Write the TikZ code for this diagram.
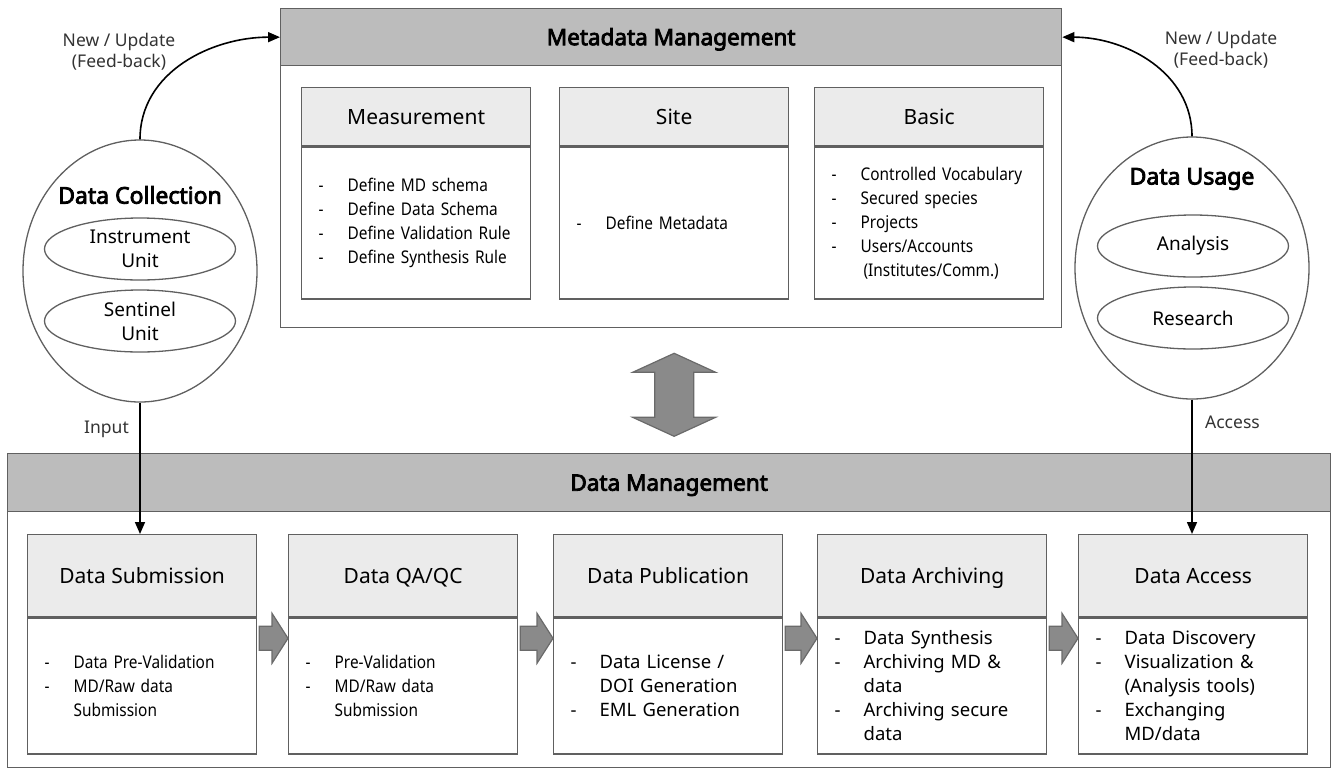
\documentclass[tikz,border=0pt]{standalone}
\usepackage{fontspec}
\setmainfont{Noto Sans}[AutoFakeBold=3.6]
\newfontfamily\condfont[FakeStretch=0.88]{Noto Sans}
\usetikzlibrary{positioning,calc,arrows.meta,shapes.geometric}
\definecolor{linegray}{HTML}{606060}
\definecolor{bandgray}{HTML}{BCBCBC}
\definecolor{hdrgray}{HTML}{EBEBEB}
\definecolor{arrgray}{HTML}{8A8A8A}
\definecolor{arrline}{HTML}{6A6A6A}
\newcommand{\fsz}[2]{\fontsize{#1}{#2}\selectfont}
\newcommand{\itm}[1]{\makebox[29pt][l]{-}#1}
\newcommand{\cnt}[1]{\hspace*{29pt}#1}
% block arrow between two boxes, at 21pt below the header line
\newcommand{\flowarr}[2]{%
 \coordinate (fs) at ($(#1.north east)+(2,21)$);
 \coordinate (ft) at ($(#2.north west)+(0,21)$);
 \coordinate (fh) at ($(ft)+(-16,0)$);
 \draw[flow] ($(fs)+(0,-12)$) -- ($(fh)+(0,-12)$) -- ($(fh)+(0,-25)$) -- (ft)
  -- ($(fh)+(0,25)$) -- ($(fh)+(0,12)$) -- ($(fs)+(0,12)$) -- cycle;
}
\tikzset{
 band/.style={draw=linegray, fill=bandgray, line width=1.3pt, inner sep=0pt, text height=16pt, text depth=0pt, font=\bfseries\fsz{22.5}{26}},
 frame/.style={draw=linegray, line width=1.3pt, inner sep=0pt},
 hdr/.style={draw=linegray, fill=hdrgray, line width=1.3pt, minimum width=229pt, inner sep=0pt, text height=15pt, text depth=0pt, font=\fsz{21}{25}},
 body/.style={draw=linegray, fill=white, line width=1.3pt, text width=195pt, inner xsep=17pt, inner ysep=0pt, align=left, font=\fsz{18.5}{24}},
 cbody/.style={body, font=\condfont\fsz{17.5}{24}},
 grp/.style={ellipse, draw=linegray, line width=1.3pt, minimum width=234pt, minimum height=262pt, inner sep=0pt},
 grptitle/.style={font=\bfseries\fsz{23}{27}, inner sep=0pt},
 unit/.style={ellipse, draw=linegray, line width=1.3pt, minimum width=191pt, minimum height=62pt, inner sep=0pt, align=center, font=\fsz{19}{24}},
 note/.style={align=center, font=\fsz{17.5}{21}, text=black!80},
 link/.style={line width=1.6pt, -{Triangle[length=12pt,width=10pt]}},
 flow/.style={draw=arrline, fill=arrgray, line width=1.2pt, line join=miter}
}
\begin{document}
\begin{tikzpicture}[x=1pt,y=-1pt]
\useasboundingbox (0,0) rectangle (1333,769);

% metadata management
\node[frame, minimum width=781pt, minimum height=262pt, anchor=north west] (mdb) at (280,65) {};
\node[band, minimum width=781pt, minimum height=57pt, anchor=north west] (mdh) at (280,8) {Metadata Management};

\node[hdr, minimum height=58pt, anchor=north west] (msh) at (301,87) {Measurement};
\node[cbody, minimum height=152pt, anchor=north] (msb) at (msh.south)
 {\itm{Define MD schema}\\ \itm{Define Data Schema}\\ \itm{Define Validation Rule}\\ \itm{Define Synthesis Rule}};
\node[hdr, minimum height=58pt, anchor=north west] (sth) at (559,87) {Site};
\node[cbody, minimum height=152pt, anchor=north] (stb) at (sth.south) {\itm{Define Metadata}};
\node[hdr, minimum height=58pt, anchor=north west] (bsh) at (814,87) {Basic};
\node[cbody, minimum height=152pt, anchor=north] (bsb) at (bsh.south)
 {\itm{Controlled Vocabulary}\\ \itm{Secured species}\\ \itm{Projects}\\ \itm{Users/Accounts}\\ \cnt{\,(Institutes/Comm.)}};

% data collection / data usage
\node[grp] (dc) at (140,271) {};
\node[grptitle] (dct) at (140,195) {Data Collection};
\node[unit] (iu) at (140,249) {Instrument\\Unit};
\node[unit] (su) at (140,321) {Sentinel\\Unit};

\node[grp] (du) at (1192,268) {};
\node[grptitle] (dut) at (1192,179) {Data Usage};
\node[unit] (an) at (1193,246) {Analysis};
\node[unit] (rs) at (1193,318) {Research};

% data management
\node[frame, minimum width=1323pt, minimum height=256pt, anchor=north west] (dmb) at (7,511) {};
\node[band, minimum width=1323pt, minimum height=58pt, anchor=north west] (dmh) at (7,453) {Data Management};

\node[hdr, minimum height=82pt, anchor=north west] (subh) at (27,534) {Data Submission};
\node[cbody, minimum height=136pt, anchor=north] (subb) at (subh.south)
 {\itm{Data Pre-Validation}\\ \itm{MD/Raw data}\\ \cnt{Submission}};
\node[hdr, minimum height=82pt, anchor=north west] (qah) at (288,534) {Data QA/QC};
\node[cbody, minimum height=136pt, anchor=north] (qab) at (qah.south)
 {\itm{Pre-Validation}\\ \itm{MD/Raw data}\\ \cnt{Submission}};
\node[hdr, minimum height=82pt, anchor=north west] (pubh) at (553,534) {Data Publication};
\node[body, minimum height=136pt, anchor=north] (pubb) at (pubh.south)
 {\itm{Data License /}\\ \cnt{DOI Generation}\\ \itm{EML Generation}};
\node[hdr, minimum height=82pt, anchor=north west] (arch) at (817,534) {Data Archiving};
\node[body, minimum height=136pt, anchor=north] (arcb) at (arch.south)
 {\itm{Data Synthesis}\\ \itm{Archiving MD \&}\\ \cnt{data}\\ \itm{Archiving secure}\\ \cnt{data}};
\node[hdr, minimum height=82pt, anchor=north west] (acch) at (1078,534) {Data Access};
\node[body, minimum height=136pt, anchor=north] (accb) at (acch.south)
 {\itm{Data Discovery}\\ \itm{Visualization \&}\\ \cnt{(Analysis tools)}\\ \itm{Exchanging}\\ \cnt{MD/data}};

% connectors
\draw[link] (dc.north) to[out=90,in=180] (mdh.west);
\node[note] (fbl) at (119,52) {New / Update\\(Feed-back)};
\draw[link] (du.north) to[out=90,in=0] (mdh.east);
\node[note] (fbr) at (1221,50) {New / Update\\(Feed-back)};
\draw[link] (dc.south) -- node[note, pos=.2, left=7pt]{Input} (dc.south |- subh.north);
\draw[link] (du.south) -- node[note, pos=.17, right=9pt]{Access} (du.south |- acch.north);

\flowarr{subb}{qab}
\flowarr{qab}{pubb}
\flowarr{pubb}{arcb}
\flowarr{arcb}{accb}

% metadata <-> data management
\coordinate (ua) at ($(mdb.south)+(3,25)$);
\coordinate (da) at ($(ua)+(0,83)$);
\draw[flow] (ua) -- ++(41.5,19) -- ++(-22,0) -- ($(da)+(19.5,-19)$) -- ++(22,0) -- (da)
 -- ++(-41.5,-19) -- ++(22,0) -- ($(ua)+(-19.5,19)$) -- ++(-22,0) -- cycle;
\end{tikzpicture}
\end{document}
